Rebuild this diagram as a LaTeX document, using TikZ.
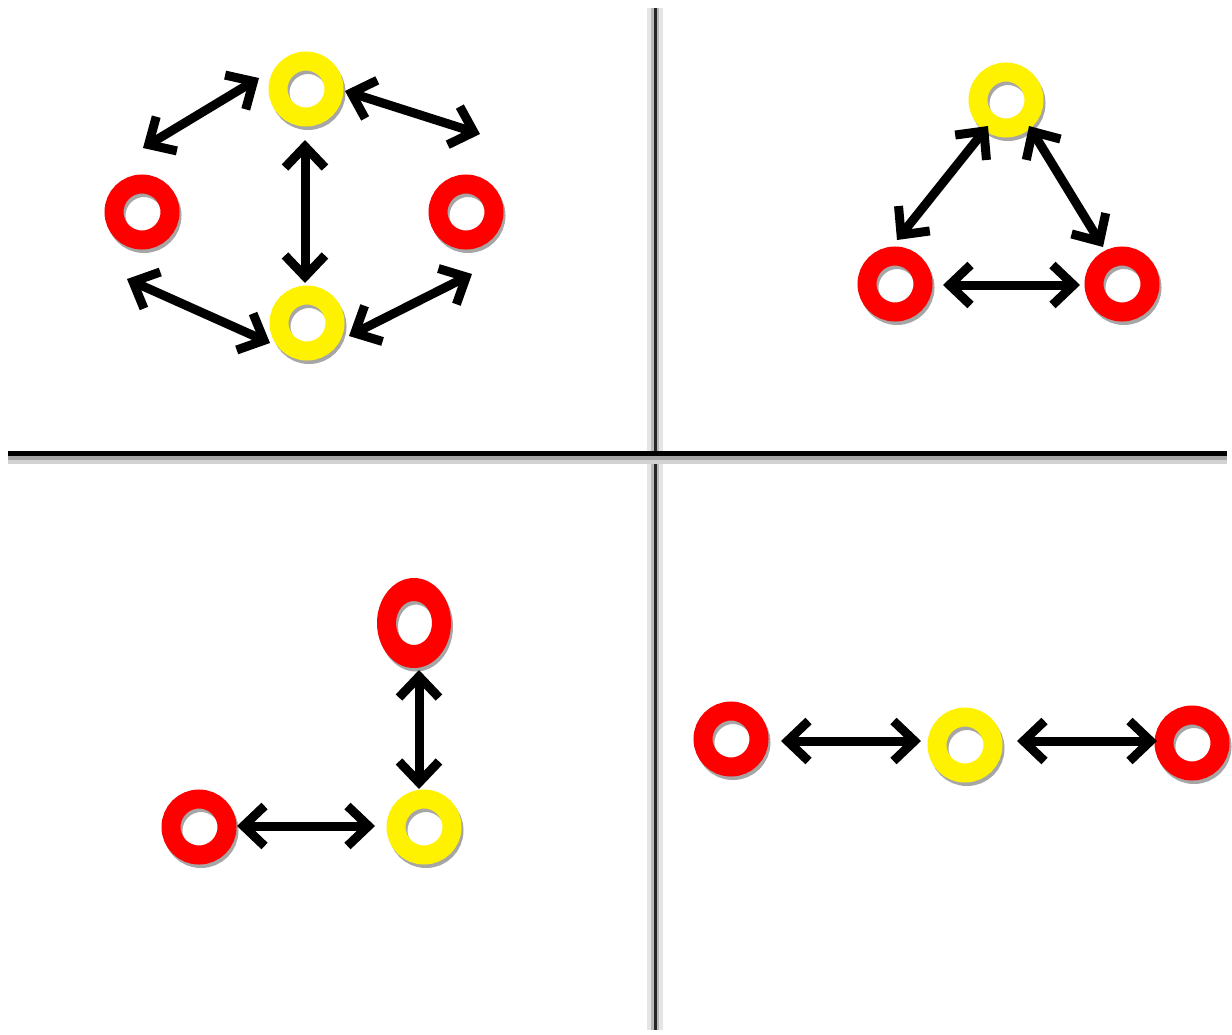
\documentclass[tikz,border=0pt]{standalone}
\usetikzlibrary{arrows.meta}
\begin{document}
\begin{tikzpicture}[x=1pt,y=-1pt,
  ring/.style={circle, minimum size=56pt, inner sep=0pt, line width=19pt, draw=#1,
    preaction={draw=gray!70, transform canvas={xshift=2pt,yshift=-3.5pt}}},
  barb/.tip={Straight Barb[length=21pt,width=40pt]},
  arr/.style={line width=9pt, barb-barb}
]
\useasboundingbox (0,0) rectangle (1232,1034);
% quadrant lines
\draw[gray!20, line width=16pt] (655,8) -- (655,1030);
\draw[gray!55, line width=8pt] (655,8) -- (655,1030);
\draw[black!85, line width=3pt] (655,8) -- (655,1030);
\draw[gray!35, line width=12pt] (8,458) -- (1227,458);
\draw[gray!70, line width=6pt] (8,457) -- (1227,457);
\draw[black, line width=5pt] (8,453) -- (1227,453);

% top-left quadrant
\node[ring=yellow] (tlY1) at (306,89) {};
\node[ring=red] (tlR1) at (142,212) {};
\node[ring=red] (tlR2) at (466,212) {};
\node[ring=yellow] (tlY2) at (307,323) {};
% top-right quadrant
\node[ring=yellow] (trY) at (1006,100) {};
\node[ring=red] (trR1) at (895,284) {};
\node[ring=red] (trR2) at (1122,284) {};
% bottom-left quadrant (elliptic red ring)
\fill[gray!70, even odd rule] (416,626.5) ellipse (37 and 45) (416,626.5) ellipse (18 and 22);
\fill[red, even odd rule] (414,623) ellipse (37 and 45) (414,623) ellipse (18 and 22);
\node[minimum width=74pt, minimum height=90pt, inner sep=0pt] (blR1) at (414,623) {};
\node[ring=red] (blR2) at (199,827) {};
\node[ring=yellow] (blY) at (424,827) {};
% bottom-right quadrant
\node[ring=red] (brR1) at (731,739) {};
\node[ring=yellow] (brY) at (965,745) {};
\node[ring=red] (brR2) at (1192,743) {};

% arrow end coordinates
\coordinate (a1s) at (143,148); \coordinate (a1e) at (259,78);
\coordinate (a2s) at (345,91); \coordinate (a2e) at (480,134);
\coordinate (a3s) at (305,140); \coordinate (a3e) at (305,283);
\coordinate (a4s) at (127,279); \coordinate (a4e) at (270,343);
\coordinate (a5s) at (349,336); \coordinate (a5e) at (472,274);
\coordinate (b1s) at (988,126); \coordinate (b1e) at (897,240);
\coordinate (b2s) at (1029,126); \coordinate (b2e) at (1103,247);
\coordinate (b3s) at (943,285); \coordinate (b3e) at (1080,285);
\coordinate (c1s) at (419,670); \coordinate (c1e) at (419,789);
\coordinate (c2s) at (237,826); \coordinate (c2e) at (375,826);
\coordinate (d1s) at (781,741); \coordinate (d1e) at (921,741);
\coordinate (d2s) at (1017,741); \coordinate (d2e) at (1157,741);

\draw[arr] (a1s) -- (a1e);
\draw[arr] (a2s) -- (a2e);
\draw[arr] (a3s) -- (a3e);
\draw[arr] (a4s) -- (a4e);
\draw[arr] (a5s) -- (a5e);
\draw[arr] (b1s) -- (b1e);
\draw[arr] (b2s) -- (b2e);
\draw[arr] (b3s) -- (b3e);
\draw[arr] (c1s) -- (c1e);
\draw[arr] (c2s) -- (c2e);
\draw[arr] (d1s) -- (d1e);
\draw[arr] (d2s) -- (d2e);
\end{tikzpicture}
\end{document}
